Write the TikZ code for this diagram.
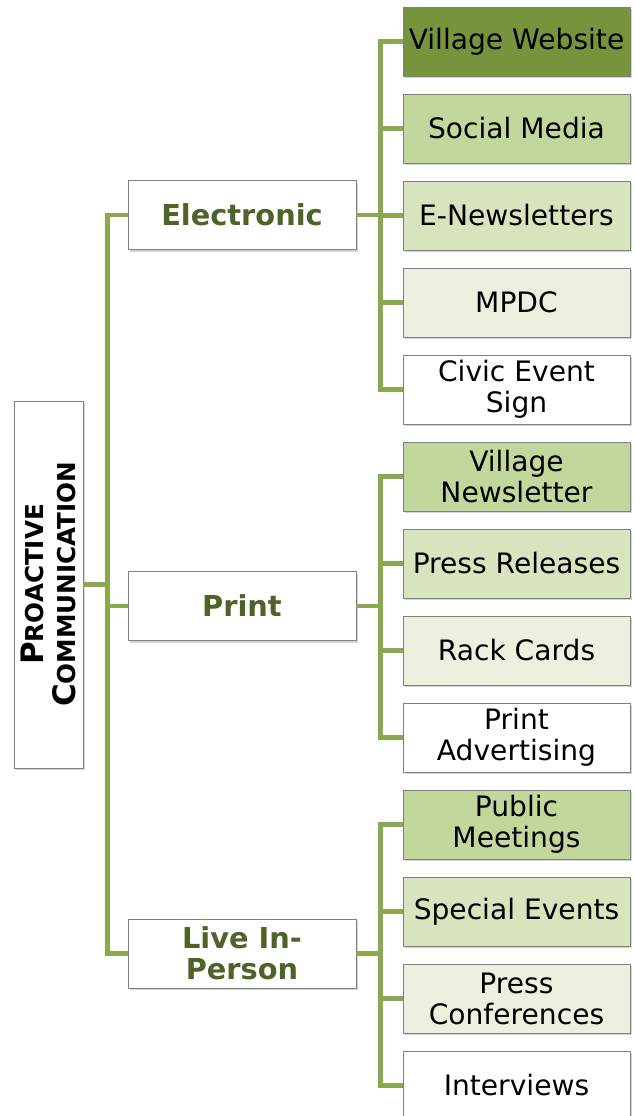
\documentclass[tikz,border=0pt]{standalone}
\usepackage{fontspec}
\setmainfont{DejaVu Sans}
\usetikzlibrary{shadows}

\definecolor{branchgreen}{RGB}{138,168,78}
\definecolor{titlegreen}{RGB}{79,98,40}
\definecolor{shadeA}{RGB}{119,147,60}
\definecolor{shadeB}{RGB}{195,214,155}
\definecolor{shadeC}{RGB}{215,228,189}
\definecolor{shadeD}{RGB}{235,241,222}

\tikzset{
  box/.style = {rectangle, draw=black!50, line width=0.6pt, align=center, inner sep=0pt,
                drop shadow={shadow xshift=1.2pt, shadow yshift=-1.6pt, opacity=0.35}},
  leaf/.style = {box, minimum width=5.675cm, minimum height=1.725cm,
                 font=\fontsize{20}{22}\selectfont},
  group/.style = {box, fill=white, minimum width=5.7cm, minimum height=1.725cm,
                  text=titlegreen, font=\fontsize{20.5}{22}\selectfont\bfseries}
}

\begin{document}
\begin{tikzpicture}[x=0.025cm,y=-0.025cm]
            \useasboundingbox (0,0) rectangle (634,1116);
            \clip (0,0) rectangle (634,1116);

            % root (rotated, so its south side faces right)
            \node[box, fill=white, rotate=90, minimum width=9.175cm, minimum height=1.725cm,
                  font=\bfseries\fontsize{17.5}{22}\selectfont] (root) at (48.5,584.5)
                {{\fontsize{22}{22}\selectfont P}ROACTIVE\\[1pt]{\fontsize{22}{22}\selectfont C}OMMUNICATION};

            % channels
            \begin{scope}[every node/.style = {group}]
                \node(elec) at (242,215) {Electronic};
                \node(print) at (242,606) {Print};
                \node(live) at (242,953.5) {Live In-\\Person};
            \end{scope}

            % tools
            \begin{scope}[every node/.style = {leaf}]
                \node[fill=shadeA](web) at (516.5,41.5) {Village Website};
                \node[fill=shadeB](social) at (516.5,128.5) {Social Media};
                \node[fill=shadeC](enews) at (516.5,215.5) {E-Newsletters};
                \node[fill=shadeD](mpdc) at (516.5,302.5) {MPDC};
                \node[fill=white](sign) at (516.5,389.5) {Civic Event\\Sign};

                \node[fill=shadeB](vnews) at (516.5,476.5) {Village\\Newsletter};
                \node[fill=shadeC](press) at (516.5,563.5) {Press Releases};
                \node[fill=shadeD](rack) at (516.5,650.5) {Rack Cards};
                \node[fill=white](advert) at (516.5,737.5) {Print\\Advertising};

                \node[fill=shadeB](meet) at (516.5,824.5) {Public\\Meetings};
                \node[fill=shadeC](events) at (516.5,911.5) {Special Events};
                \node[fill=shadeD](conf) at (516.5,998.5) {Press\\Conferences};
                \node[fill=white](inter) at (516.5,1085.5) {Interviews};
            \end{scope}

            \begin{scope}[every edge/.style = {draw, branchgreen, line width=3.5pt,
                          to path={-- ++(24,0) |- (\tikztotarget)}}]
                \path(root.south) edge[] (elec.west);
                \path(root.south) edge[] (print.west);
                \path(root.south) edge[] (live.west);

                \path(elec.east) edge[] (web.west);
                \path(elec.east) edge[] (social.west);
                \path(elec.east) edge[] (enews.west);
                \path(elec.east) edge[] (mpdc.west);
                \path(elec.east) edge[] (sign.west);

                \path(print.east) edge[] (vnews.west);
                \path(print.east) edge[] (press.west);
                \path(print.east) edge[] (rack.west);
                \path(print.east) edge[] (advert.west);

                \path(live.east) edge[] (meet.west);
                \path(live.east) edge[] (events.west);
                \path(live.east) edge[] (conf.west);
                \path(live.east) edge[] (inter.west);
            \end{scope}
        \end{tikzpicture}
\end{document}
